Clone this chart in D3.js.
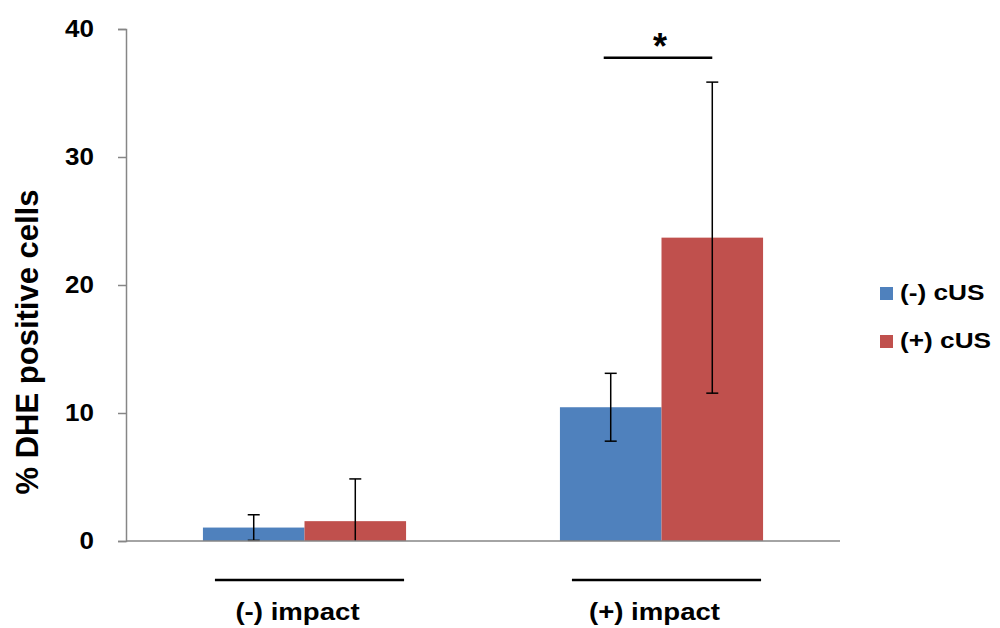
<!DOCTYPE html>
<html>
<head>
<meta charset="utf-8">
<script src="https://cdn.jsdelivr.net/npm/d3@7"></script>
<style>
  html, body { margin: 0; padding: 0; background: #fff; }
  svg { display: block; font-family: "Liberation Sans", Arial, sans-serif; }
</style>
</head>
<body>
<svg id="chart" width="1000" height="628"></svg>
<script>
const categories = ["(-) impact", "(+) impact"];
const seriesNames = ["(-) cUS", "(+) cUS"];
const negCUS = [1.05, 10.45];
const posCUS = [1.55, 23.7];
const negErr = [1.0, 2.65];
const posErr = [3.3, 12.15];
const yTicks = [0, 10, 20, 30, 40];
const sigLevel = 37.75;

(function() {
const colors = ["#4F81BD", "#C0504D"];
const svg = d3.select("#chart");

const pLeft = 126, pRight = 840, pTop = 29, pBottom = 541;
const y = d3.scaleLinear().domain([0, 40]).range([pBottom, pTop]);
const x0 = d3.scaleBand().domain(categories).range([pLeft, pRight]).paddingInner(0.431).paddingOuter(0.2155);
const x1 = d3.scaleBand().domain(seriesNames).range([0, x0.bandwidth()]).padding(0);

const data = categories.map((c, i) => ({
  cat: c,
  vals: [
    { s: seriesNames[0], v: negCUS[i], e: negErr[i] },
    { s: seriesNames[1], v: posCUS[i], e: posErr[i] }
  ]
}));

// bars
const g = svg.selectAll("g.grp").data(data).enter().append("g")
  .attr("class", "grp")
  .attr("transform", d => `translate(${x0(d.cat)},0)`);
g.selectAll("rect").data(d => d.vals).enter().append("rect")
  .attr("x", d => x1(d.s))
  .attr("width", x1.bandwidth())
  .attr("y", d => y(d.v))
  .attr("height", d => y(0) - y(d.v))
  .attr("fill", (d, i) => colors[i]);

// y axis
const yAxis = d3.axisLeft(y).tickValues(yTicks).tickSize(8).tickPadding(24).tickFormat(d3.format("d"));
const ya = svg.append("g").attr("transform", `translate(${pLeft},0)`).call(yAxis);
ya.select(".domain").attr("stroke", "#868686").attr("stroke-width", 1.5);
ya.selectAll(".tick line").attr("stroke", "#868686").attr("stroke-width", 1.5);
ya.selectAll(".tick text")
  .attr("font-size", 23).attr("font-weight", "bold").attr("fill", "#000")
  .attr("font-family", "'Liberation Sans', Arial, sans-serif")
  .each(function() {
    const t = d3.select(this);
    const xx = +t.attr("x");
    t.attr("x", null).attr("transform", `translate(${xx},0) scale(1.13,1)`);
  });

// x axis baseline
svg.append("line")
  .attr("x1", pLeft).attr("x2", pRight)
  .attr("y1", y(0)).attr("y2", y(0))
  .attr("stroke", "#868686").attr("stroke-width", 1.5);

// error bars
const capW = 12;
g.each(function(d) {
  const gg = d3.select(this);
  d.vals.forEach(v => {
    const cx = x1(v.s) + x1.bandwidth() / 2;
    const hi = v.v + v.e;
    const lo = Math.max(0, v.v - v.e);
    gg.append("line").attr("x1", cx).attr("x2", cx).attr("y1", y(hi)).attr("y2", y(lo))
      .attr("stroke", "#000").attr("stroke-width", 1.5);
    gg.append("line").attr("x1", cx - capW / 2).attr("x2", cx + capW / 2).attr("y1", y(hi)).attr("y2", y(hi))
      .attr("stroke", "#000").attr("stroke-width", 1.5);
    if (v.v - v.e >= 0) {
      gg.append("line").attr("x1", cx - capW / 2).attr("x2", cx + capW / 2).attr("y1", y(lo)).attr("y2", y(lo))
        .attr("stroke", "#000").attr("stroke-width", 1.5);
    }
  });
});

// group underlines and labels
categories.forEach(c => {
  const bx = x0(c);
  svg.append("line")
    .attr("x1", bx + 12).attr("x2", bx + x0.bandwidth() - 2)
    .attr("y1", 580).attr("y2", 580)
    .attr("stroke", "#000").attr("stroke-width", 2.5);
  svg.append("text")
    .attr("transform", `translate(${bx + x0.bandwidth() / 2 - 7},620) scale(1.15,1)`)
    .attr("text-anchor", "middle")
    .attr("font-size", 24).attr("font-weight", "bold")
    .text(c);
});

// significance
const sigCat = categories[1];
const sx1 = x0(sigCat) + x1(seriesNames[0]) + x1.bandwidth() / 2 - 7;
const sx2 = x0(sigCat) + x1(seriesNames[1]) + x1.bandwidth() / 2;
svg.append("line")
  .attr("x1", sx1).attr("x2", sx2)
  .attr("y1", y(sigLevel)).attr("y2", y(sigLevel))
  .attr("stroke", "#000").attr("stroke-width", 2.5);
svg.append("text")
  .attr("x", (sx1 + sx2) / 2 + 2).attr("y", y(sigLevel) + 1)
  .attr("text-anchor", "middle")
  .attr("font-size", 36).attr("font-weight", "bold")
  .text("*");

// y label
svg.append("text")
  .attr("transform", `translate(38,342) rotate(-90)`)
  .attr("text-anchor", "middle")
  .attr("font-size", 31).attr("font-weight", "bold")
  .text("% DHE positive cells");

// legend
const leg = svg.append("g");
seriesNames.forEach((s, i) => {
  const yy = 287 + i * 48;
  leg.append("rect").attr("x", 880).attr("y", yy).attr("width", 13).attr("height", 13).attr("fill", colors[i]);
  leg.append("text")
    .attr("transform", `translate(900,${yy + 13}) scale(1.22,1)`)
    .attr("font-size", 21.5).attr("font-weight", "bold")
    .text(s);
});
})();
</script>
</body>
</html>
